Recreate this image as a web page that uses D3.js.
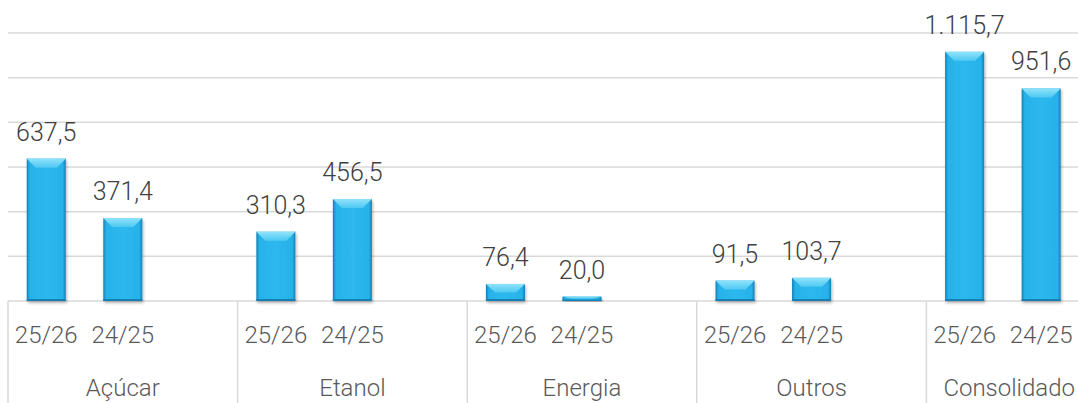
<!DOCTYPE html>
<html><head><meta charset="utf-8">
<script src="https://cdn.jsdelivr.net/npm/d3@7"></script>
<style>body{margin:0;background:#fff}svg{display:block}</style>
</head><body><svg id="c" width="1078" height="403"></svg>
<script>
const groups = ["Açúcar","Etanol","Energia","Outros","Consolidado"];
const periods = ["25/26","24/25"];
const values = [
  [637.5, 371.4],
  [310.3, 456.5],
  [76.4, 20.0],
  [91.5, 103.7],
  [1115.7, 951.6]
];
const yTicks = [0,200,400,600,800,1000,1200];
const fmt = v => {
  const s = v.toFixed(1).split(".");
  return s[0].replace(/\B(?=(\d{3})+(?!\d))/g, ".") + "," + s[1];
};

const svg = d3.select("#c");
const W = 1078, H = 403;
const left = 8, slot = 76.53;
const slots = [];
groups.forEach((g,i)=>{ periods.forEach(p=>slots.push(g+"|"+p)); slots.push(g+"|blank"); });
const x = d3.scaleBand().domain(slots).range([left, left + slots.length*slot]).paddingInner(0.49).paddingOuter(0.245);
const xg = d3.scaleBand().domain(groups).range([left, left + slots.length*slot]);
const y = d3.scaleLinear().domain([0,1200]).range([301,33]);

const defs = svg.append("defs");
const hg = defs.append("linearGradient").attr("id","hg");
hg.append("stop").attr("offset","0").attr("stop-color","#1680b4");
hg.append("stop").attr("offset","0.08").attr("stop-color","#26b2ea");
hg.append("stop").attr("offset","0.5").attr("stop-color","#2db8ee");
hg.append("stop").attr("offset","0.92").attr("stop-color","#26b2ea");
hg.append("stop").attr("offset","1").attr("stop-color","#1680b4");
const tg = defs.append("linearGradient").attr("id","tg").attr("x1",0).attr("x2",0).attr("y1",0).attr("y2",1);
tg.append("stop").attr("offset","0").attr("stop-color","#8fe3fb");
tg.append("stop").attr("offset","1").attr("stop-color","#4ec8f2");
const f = defs.append("filter").attr("id","sh").attr("x","-20%").attr("y","-20%").attr("width","140%").attr("height","140%");
f.append("feGaussianBlur").attr("in","SourceAlpha").attr("stdDeviation",1.5);
f.append("feOffset").attr("dx",1).attr("dy",2).attr("result","b");
f.append("feComponentTransfer").append("feFuncA").attr("type","linear").attr("slope",0.3);
const fm = f.append("feMerge"); fm.append("feMergeNode"); fm.append("feMergeNode").attr("in","SourceGraphic");

// gridlines
svg.append("g").selectAll("line").data(yTicks).join("line")
  .attr("x1",left).attr("x2",W).attr("y1",d=>y(d)).attr("y2",d=>y(d))
  .attr("stroke","#d9d9d9").attr("stroke-width",1.5);

// group separators
svg.append("g").selectAll("line").data(groups).join("line")
  .attr("x1",d=>xg(d)).attr("x2",d=>xg(d)).attr("y1",y(0)).attr("y2",H)
  .attr("stroke","#d9d9d9").attr("stroke-width",1.5);

const data = [];
groups.forEach((g,i)=>periods.forEach((p,j)=>data.push({g,p,v:values[i][j]})));

const bw = x.bandwidth();
const bars = svg.append("g").selectAll("g").data(data).join("g").attr("filter","url(#sh)");
bars.append("rect")
  .attr("x",d=>x(d.g+"|"+d.p)).attr("y",d=>y(d.v)).attr("width",bw).attr("height",d=>y(0)-y(d.v))
  .attr("fill","url(#hg)");
bars.append("polygon").attr("points",d=>{
  const x0 = x(d.g+"|"+d.p), x1 = x0+bw, t = y(d.v), h = y(0)-t;
  const b = Math.min(9, h/2), s = Math.min(9, bw/2);
  return [[x0,t],[x1,t],[x1-s,t+b],[x0+s,t+b]].map(p=>p.join(",")).join(" ");
}).attr("fill","url(#tg)");
bars.append("rect")
  .attr("x",d=>x(d.g+"|"+d.p)).attr("y",d=>y(0)-Math.min(2,(y(0)-y(d.v))/3)).attr("width",bw)
  .attr("height",d=>Math.min(2,(y(0)-y(d.v))/3)).attr("fill","#1680b4");

const font = "Roboto";
// value labels
svg.append("g").selectAll("text").data(data).join("text")
  .attr("x",d=>x(d.g+"|"+d.p)+bw/2).attr("y",d=>y(d.v)-18)
  .attr("text-anchor","middle").attr("font-family",font).attr("font-weight",300).attr("font-size",25)
  .attr("fill","#404040").text(d=>fmt(d.v));

// period labels
svg.append("g").selectAll("text").data(data).join("text")
  .attr("x",d=>x(d.g+"|"+d.p)+bw/2).attr("y",343)
  .attr("text-anchor","middle").attr("font-family",font).attr("font-weight",300).attr("font-size",24)
  .attr("fill","#595959").text(d=>d.p);

// group labels
const gl = svg.append("g").selectAll("text").data(groups).join("text")
  .attr("y",396).attr("font-family",font).attr("font-weight",300).attr("font-size",24)
  .attr("fill","#595959").attr("text-anchor","middle").text(d=>d)
  .attr("x",d=>xg(d)+xg.bandwidth()/2);
gl.each(function(d){
  const bb = this.getBBox();
  if (bb.x + bb.width > W - 3) d3.select(this).attr("x", W - 3 - bb.width/2);
});
</script></body></html>
